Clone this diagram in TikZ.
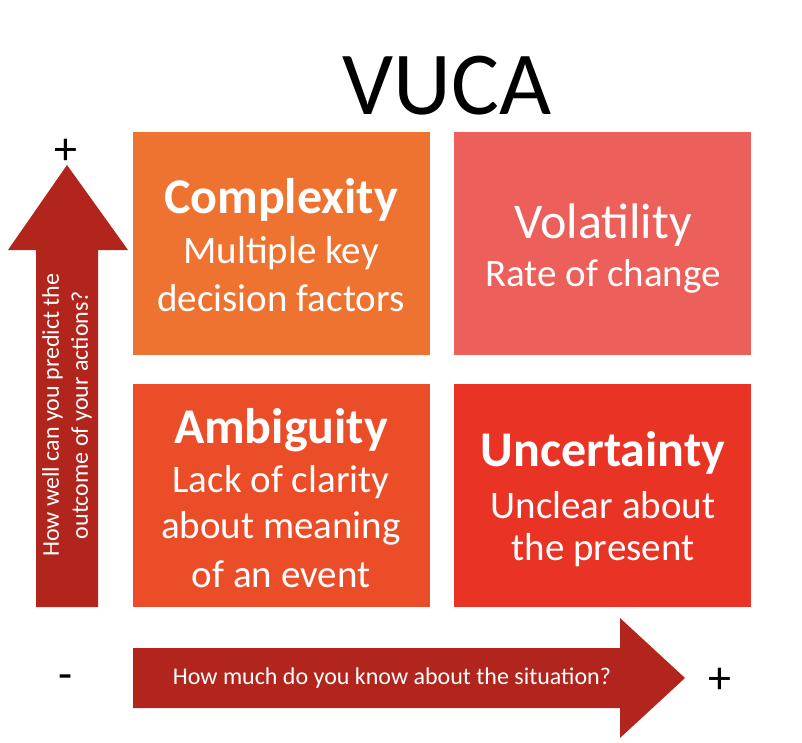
\documentclass[tikz,border=0pt]{standalone}
\usepackage{fontspec}
\setmainfont{Carlito}
\begin{document}
\begin{tikzpicture}[x=1pt,y=-1pt,
  box/.style={draw=none,minimum width=297pt,minimum height=223pt,anchor=north west,text=white,align=center,inner sep=0pt},
  ttl/.style={text=white,font=\fontsize{50}{56}\selectfont\bfseries},
  sub/.style={text=white,font=\fontsize{39}{44}\selectfont}]
\useasboundingbox (0,0) rectangle (802,743);
\definecolor{cO}{HTML}{EE7230}
\definecolor{cV}{HTML}{EC5F5A}
\definecolor{cA}{HTML}{EC4D29}
\definecolor{cU}{HTML}{E83325}
\definecolor{cR}{HTML}{B1251D}
\node (title) at (447,86) {\fontsize{90}{96}\selectfont VUCA};
\node[box,fill=cO] (c) at (133,132) {};
\node[box,fill=cV] (v) at (454,132) {};
\node[box,fill=cA] (a) at (133,384) {};
\node[box,fill=cU] (u) at (454,384) {};
\node[ttl] (c1) at (281,200) {Complexity};
\node[sub] (c2) at (281,253) {Multiple key};
\node[sub] (c3) at (281,298) {decision factors};
\node[ttl,font=\fontsize{50}{56}\selectfont] (v1) at (603,225) {Volatility};
\node[sub] (v2) at (603,276) {Rate of change};
\node[ttl] (a1) at (281,430) {Ambiguity};
\node[sub] (a2) at (281,482) {Lack of clarity};
\node[sub] (a3) at (281,528) {about meaning};
\node[sub] (a4) at (281,574) {of an event};
\node[ttl] (u1) at (603,453) {Uncertainty};
\node[sub] (u2) at (603,505) {Unclear about};
\node[sub] (u3) at (603,550) {the present};
\fill[cR] (36,607) -- (98,607) -- (98,250) -- (128,250) -- (67,165) -- (8,250) -- (36,250) -- cycle;
\fill[cR] (133,648) -- (620,648) -- (620,618) -- (685,678) -- (620,738) -- (620,708) -- (133,708) -- cycle;
\node[text=white,rotate=90,align=center,font=\fontsize{24}{29}\selectfont] (yl) at (67,415) {How well can you predict the\\outcome of your actions?};
\node[text=white,font=\fontsize{24}{28}\selectfont] (xl) at (392,678) {How much do you know about the situation?};
\node[font=\fontsize{46}{48}\selectfont] (p1) at (66,152) {+};
\node[font=\fontsize{46}{48}\selectfont] (m1) at (66,682) {-};
\node[font=\fontsize{46}{48}\selectfont] (p2) at (720,681) {+};
\end{tikzpicture}
\end{document}
